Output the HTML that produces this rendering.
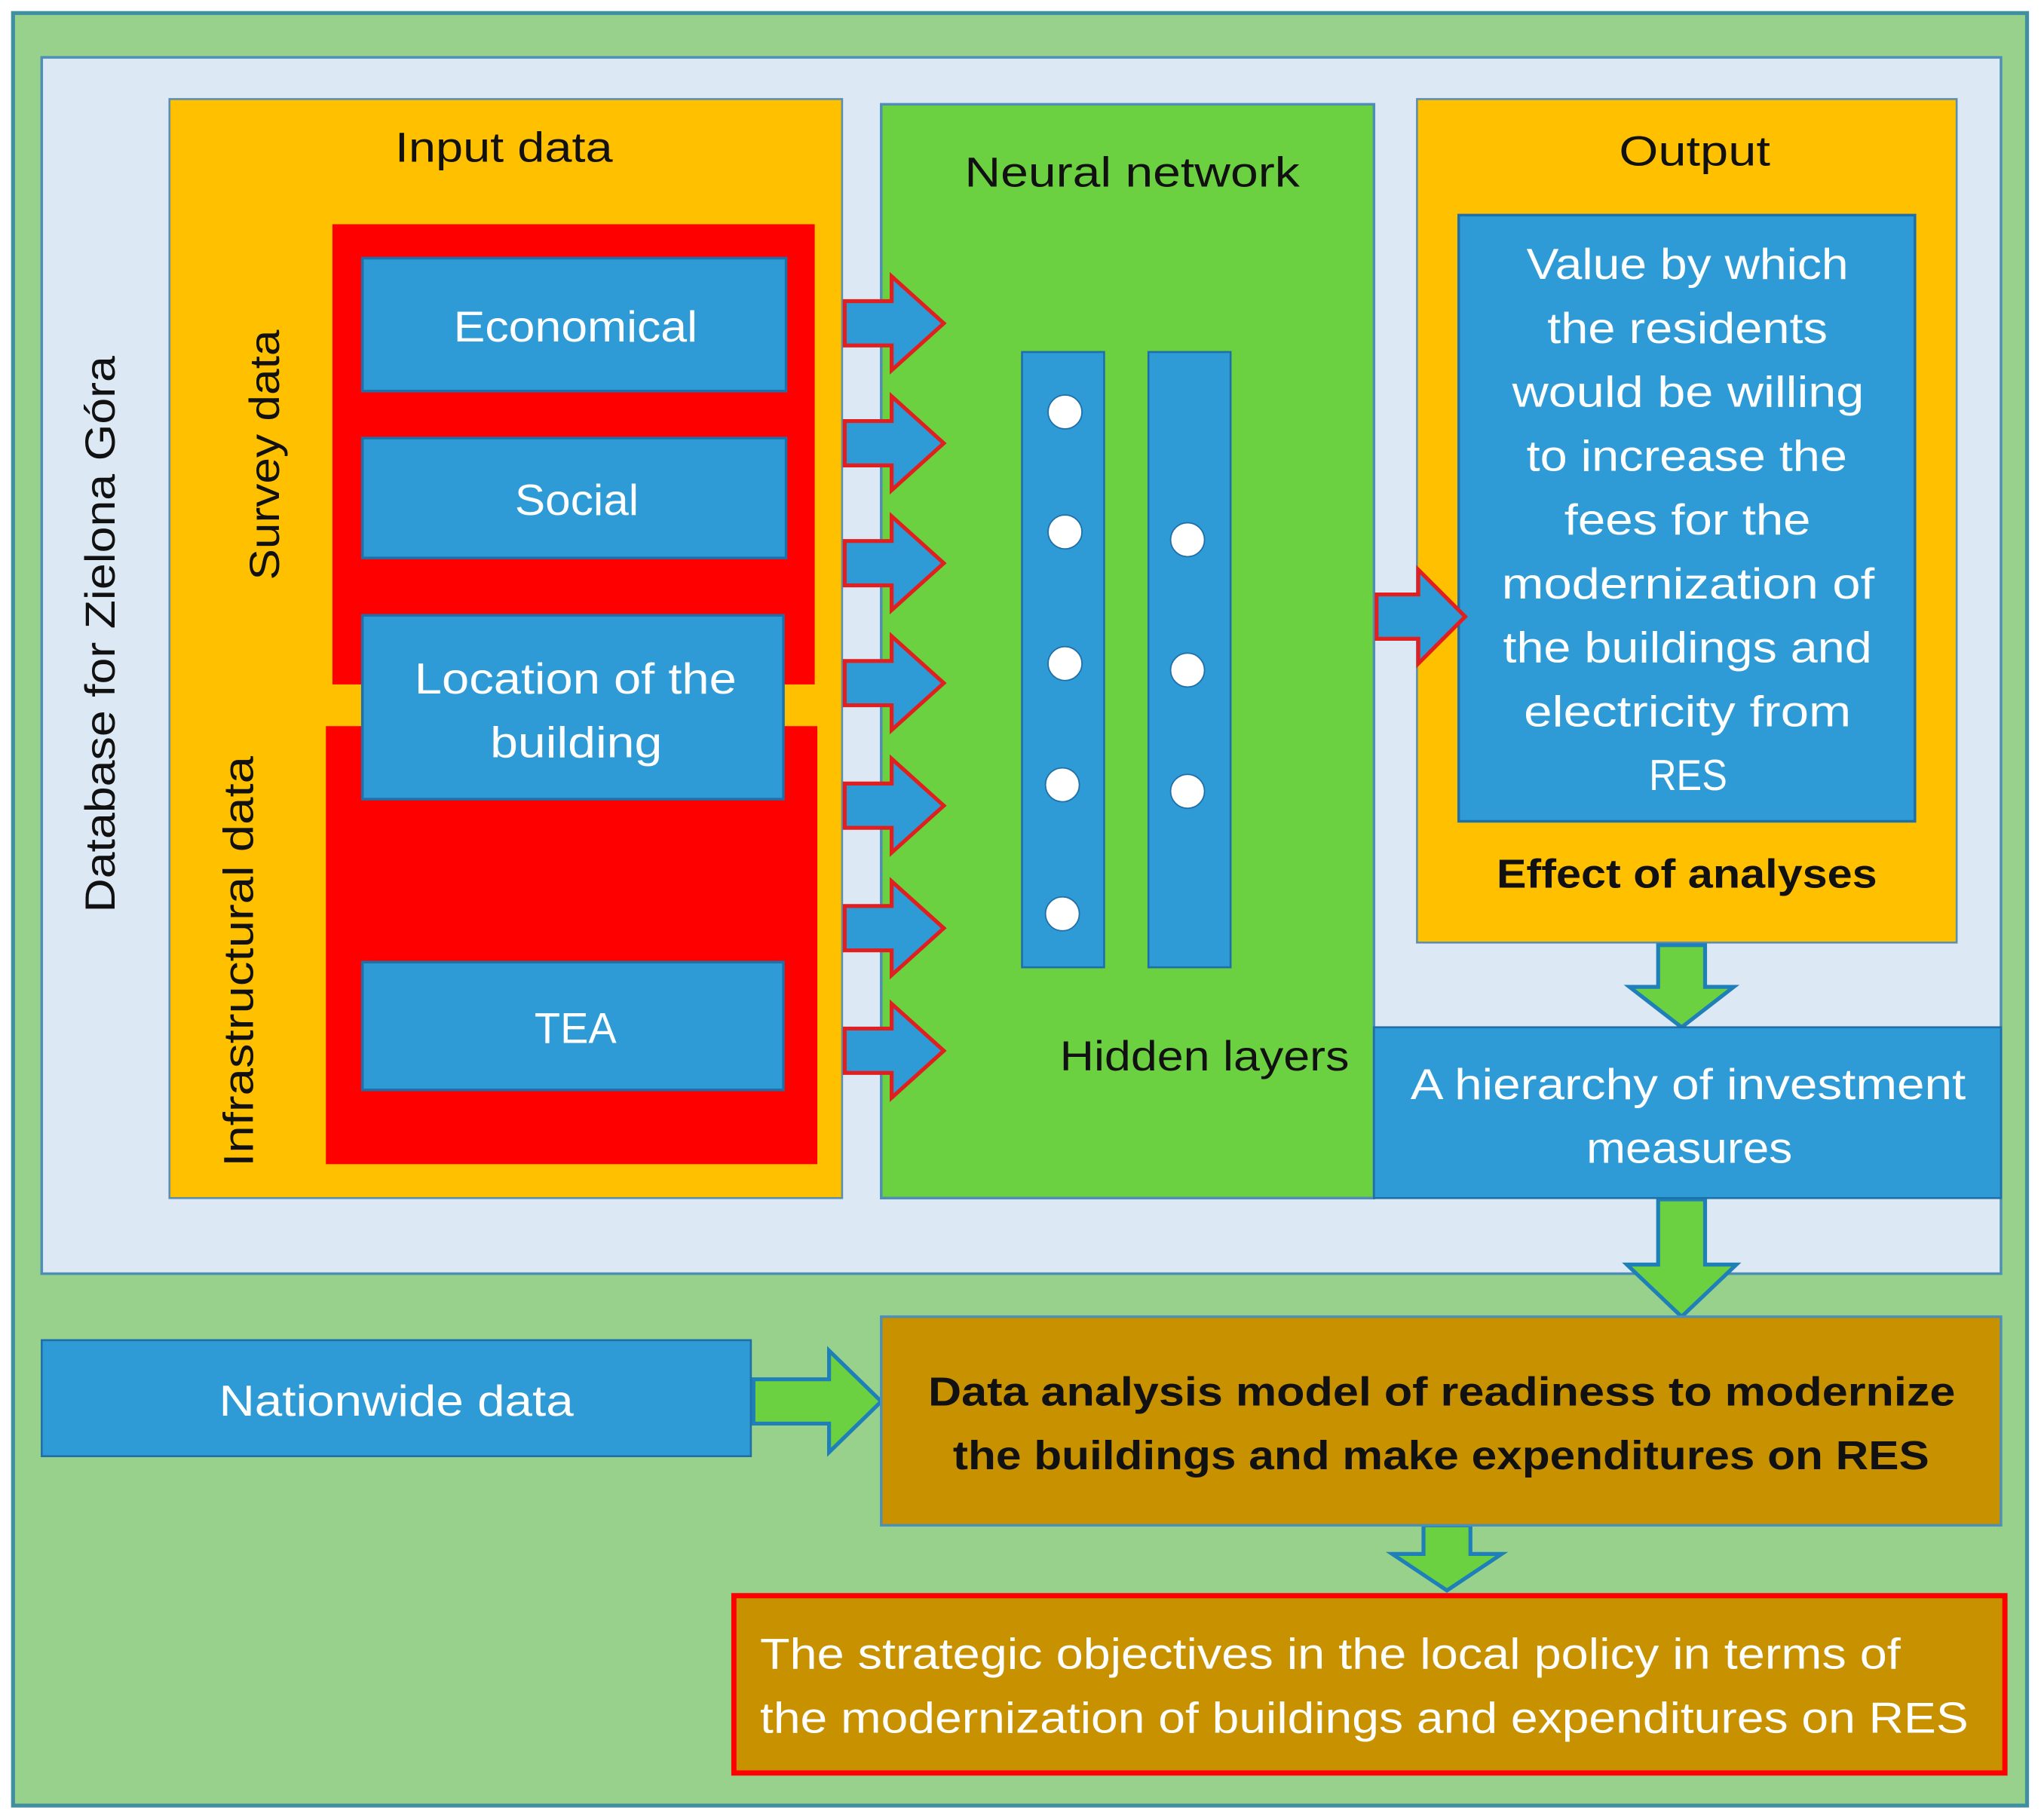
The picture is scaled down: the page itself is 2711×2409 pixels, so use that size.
<!DOCTYPE html>
<html><head><meta charset="utf-8"><style>
html,body{margin:0;padding:0;background:#fff}
svg{display:block}
text{font-family:"Liberation Sans",sans-serif}
</style></head><body>
<svg width="2711" height="2409" viewBox="0 0 1568 1393" preserveAspectRatio="none" xmlns="http://www.w3.org/2000/svg">
<rect x="0" y="0" width="1568" height="1393" fill="#fff"/>
<rect x="10" y="10" width="1545" height="1375" fill="#98d18c" stroke="#3f8fa0" stroke-width="3"/>
<rect x="32" y="44" width="1503" height="933" fill="#dce8f4" stroke="#4f8fb5" stroke-width="2"/>
<!-- Input data -->
<rect x="130" y="76" width="516" height="843" fill="#ffc000" stroke="#5b8fb0" stroke-width="1.5"/>
<text x="303" y="124" font-size="32" textLength="167" lengthAdjust="spacingAndGlyphs" fill="#111">Input data</text>
<rect x="255" y="172" width="370" height="353" fill="#ff0000"/>
<rect x="250" y="557" width="377" height="336" fill="#ff0000"/>
<rect x="278" y="198" width="325" height="102" fill="#2e9bd6" stroke="#1f6fa8" stroke-width="2"/>
<rect x="278" y="336" width="325" height="92" fill="#2e9bd6" stroke="#1f6fa8" stroke-width="2"/>
<rect x="278" y="472" width="323" height="141" fill="#2e9bd6" stroke="#1f6fa8" stroke-width="2"/>
<rect x="278" y="738" width="323" height="98" fill="#2e9bd6" stroke="#1f6fa8" stroke-width="2"/>
<g font-size="33" fill="#fff" lengthAdjust="spacingAndGlyphs">
<text x="348" y="262" textLength="187" lengthAdjust="spacingAndGlyphs">Economical</text>
<text x="395" y="395" textLength="95" lengthAdjust="spacingAndGlyphs">Social</text>
<text x="318" y="532" textLength="247" lengthAdjust="spacingAndGlyphs">Location of the</text>
<text x="376" y="581" textLength="132" lengthAdjust="spacingAndGlyphs">building</text>
<text x="410" y="800" textLength="63" lengthAdjust="spacingAndGlyphs">TEA</text>
</g>
<text transform="translate(214,445) rotate(-90)" font-size="32" textLength="192" lengthAdjust="spacingAndGlyphs" fill="#111">Survey data</text>
<text transform="translate(194,895) rotate(-90)" font-size="32" textLength="315" lengthAdjust="spacingAndGlyphs" fill="#111">Infrastructural data</text>
<text transform="translate(88,700) rotate(-90)" font-size="32" textLength="427" lengthAdjust="spacingAndGlyphs" fill="#111">Database for Zielona Góra</text>
<!-- Neural network -->
<rect x="676" y="80" width="378" height="839" fill="#6cd140" stroke="#4f8fb5" stroke-width="2"/>
<text x="740" y="143" font-size="32" textLength="257" lengthAdjust="spacingAndGlyphs" fill="#111">Neural network</text>
<rect x="784" y="270" width="63" height="472" fill="#2e9bd6" stroke="#1f6fa8" stroke-width="1.5"/>
<rect x="881" y="270" width="63" height="472" fill="#2e9bd6" stroke="#1f6fa8" stroke-width="1.5"/>
<g fill="#fff" stroke="#1f6fa8" stroke-width="1">
<circle cx="817" cy="316" r="13"/><circle cx="817" cy="408" r="13"/><circle cx="817" cy="509" r="13"/><circle cx="815" cy="602" r="13"/><circle cx="815" cy="701" r="13"/>
<circle cx="911" cy="414" r="13"/><circle cx="911" cy="514" r="13"/><circle cx="911" cy="607" r="13"/>
</g>
<text x="813" y="821" font-size="32" textLength="222" lengthAdjust="spacingAndGlyphs" fill="#111">Hidden layers</text>
<!-- Output -->
<rect x="1087" y="76" width="414" height="647" fill="#ffc000" stroke="#5b8fb0" stroke-width="1.5"/>
<text x="1242" y="127" font-size="32" textLength="116" lengthAdjust="spacingAndGlyphs" fill="#111">Output</text>
<rect x="1119" y="165" width="350" height="465" fill="#2e9bd6" stroke="#1f6fa8" stroke-width="2"/>
<g font-size="33" fill="#fff">
<text x="1171" y="214" textLength="247" lengthAdjust="spacingAndGlyphs">Value by which</text>
<text x="1187" y="263" textLength="215" lengthAdjust="spacingAndGlyphs">the residents</text>
<text x="1160" y="312" textLength="270" lengthAdjust="spacingAndGlyphs">would be willing</text>
<text x="1171" y="361" textLength="246" lengthAdjust="spacingAndGlyphs">to increase the</text>
<text x="1200" y="410" textLength="189" lengthAdjust="spacingAndGlyphs">fees for the</text>
<text x="1152" y="459" textLength="286" lengthAdjust="spacingAndGlyphs">modernization of</text>
<text x="1153" y="508" textLength="283" lengthAdjust="spacingAndGlyphs">the buildings and</text>
<text x="1169" y="557" textLength="251" lengthAdjust="spacingAndGlyphs">electricity from</text>
<text x="1265" y="606" textLength="60" lengthAdjust="spacingAndGlyphs">RES</text>
</g>
<text x="1148" y="681" font-size="31" font-weight="bold" textLength="292" lengthAdjust="spacingAndGlyphs" fill="#111">Effect of analyses</text>
<!-- red-outlined arrows -->
<g fill="#2e9bd6" stroke="#e02020" stroke-width="3">
<path d="M648,231 H684 V212 L724,248 L684,284 V265 H648 Z"/>
<path d="M648,323 H684 V304 L724,340 L684,376 V357 H648 Z"/>
<path d="M648,415 H684 V396 L724,432 L684,468 V449 H648 Z"/>
<path d="M648,507 H684 V488 L724,524 L684,560 V541 H648 Z"/>
<path d="M648,601 H684 V582 L724,618 L684,654 V635 H648 Z"/>
<path d="M648,695 H684 V676 L724,712 L684,748 V729 H648 Z"/>
<path d="M648,789 H684 V770 L724,806 L684,842 V823 H648 Z"/>
<path d="M1056,456 H1088 V437 L1124,473 L1088,509 V490 H1056 Z"/>
</g>
<!-- green arrows -->
<g fill="#6cd140" stroke="#1f7fb8" stroke-width="3">
<path d="M1272,725 H1308 V757 H1330 L1290,788 L1250,757 H1272 Z"/>
<path d="M1272,920 H1308 V970 H1332 L1290,1010 L1248,970 H1272 Z"/>
<path d="M1092,1170 H1128 V1192 H1152 L1110,1220 L1068,1192 H1092 Z"/>
<path d="M578,1058 H636 V1036 L676,1075 L636,1114 V1092 H578 Z"/>
</g>
<rect x="1054" y="788" width="481" height="131" fill="#2e9bd6" stroke="#1f6fa8" stroke-width="1.5"/>
<text x="1082" y="843" font-size="33" textLength="426" lengthAdjust="spacingAndGlyphs" fill="#fff">A hierarchy of investment</text>
<text x="1217" y="892" font-size="33" textLength="158" lengthAdjust="spacingAndGlyphs" fill="#fff">measures</text>
<!-- bottom -->
<rect x="676" y="1010" width="859" height="160" fill="#c79100" stroke="#4f8fb5" stroke-width="2"/>
<text x="712" y="1078" font-size="31" font-weight="bold" textLength="788" lengthAdjust="spacingAndGlyphs" fill="#111">Data analysis model of readiness to modernize</text>
<text x="731" y="1127" font-size="31" font-weight="bold" textLength="749" lengthAdjust="spacingAndGlyphs" fill="#111">the buildings and make expenditures on RES</text>
<rect x="32" y="1028" width="544" height="89" fill="#2e9bd6" stroke="#1f6fa8" stroke-width="1.5"/>
<text x="168" y="1086" font-size="33" textLength="272" lengthAdjust="spacingAndGlyphs" fill="#fff">Nationwide data</text>
<rect x="563" y="1224" width="975" height="136" fill="#c79100" stroke="#ff0000" stroke-width="4"/>
<text x="583" y="1280" font-size="33" textLength="875" lengthAdjust="spacingAndGlyphs" fill="#fff">The strategic objectives in the local policy in terms of</text>
<text x="583" y="1329" font-size="33" textLength="927" lengthAdjust="spacingAndGlyphs" fill="#fff">the modernization of buildings and expenditures on RES</text>
</svg>
</body></html>
